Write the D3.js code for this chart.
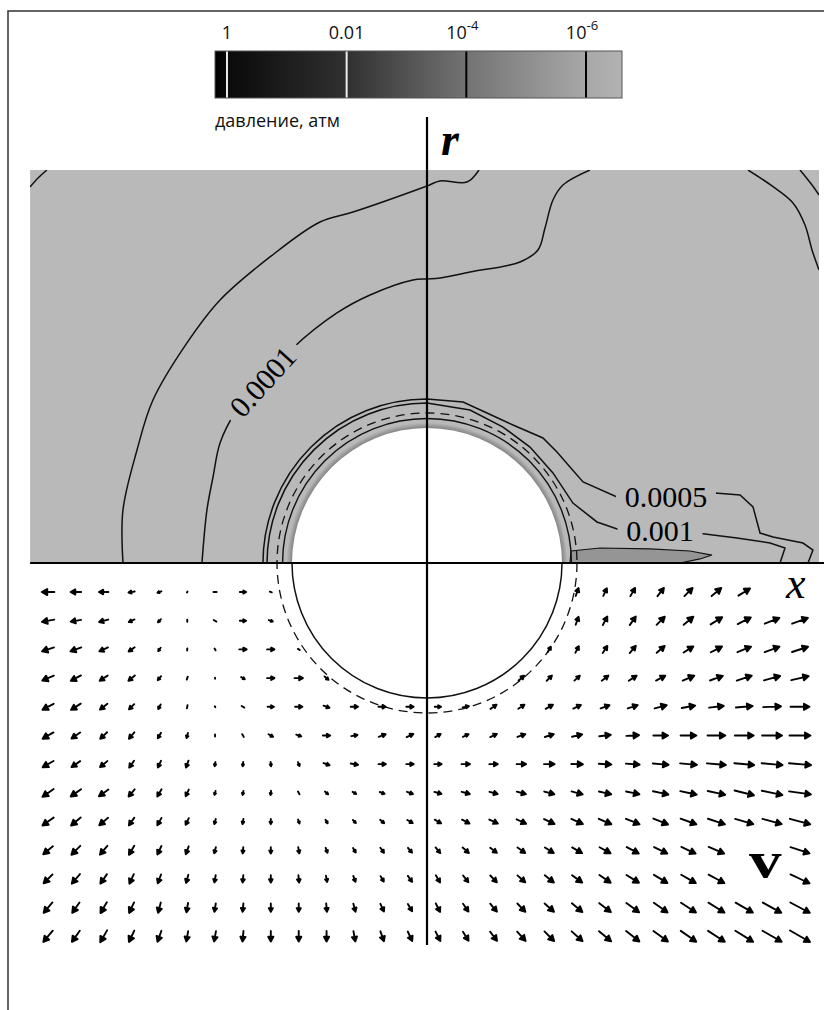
<!DOCTYPE html>
<html>
<head>
<meta charset="utf-8">
<script src="https://d3js.org/d3.v7.min.js"></script>
<style>
  body { margin: 0; background: #fff; }
  svg { display: block; }
</style>
</head>
<body>
<svg id="chart" width="824" height="1010"></svg>
<script>
var N = null;

// colour bar: pressure in atm, log scale
var barEnds = [1.585, 2.5e-7];
var barTicks = [1, 0.01, 1e-4, 1e-6];
var barTickText = ["1", "0.01", "10", "10"];
var barTickExp = ["", "", "-4", "-6"];
var barShadeP = [1.585, 1, 0.01, 1e-4, 1e-6, 2.5e-7];
var barShadeGray = [0, 10, 48, 115, 168, 178];

// pressure contours, points are [x, r] in sphere radii
var contourOuter = [[-2.252,0],[-2.252,0.393],[-2.148,0.837],[-2.030,1.207],[-1.778,1.630],[-1.533,1.948],
  [-1.163,2.267],[-0.793,2.526],[-0.548,2.600],[0,2.793],[0.096,2.830],[0.296,2.822],[0.385,2.911]];
var contour1e4 = [[-1.667,0],[-1.630,0.393],[-1.585,0.637],[-1.533,0.889],[-1.422,1.111],[-1.215,1.350],
  [-0.993,1.593],[-0.667,1.852],[-0.422,1.985],[-0.104,2.096],[0,2.104],[0.096,2.111],[0.319,2.156],
  [0.689,2.230],[0.822,2.319],[0.874,2.481],[0.933,2.689],[1.007,2.800],[1.207,2.911]];
var contourCorner = [[-2.941,2.785],[-2.881,2.852],[-2.815,2.911]];
var contourTopRight1 = [[2.378,2.911],[2.556,2.793],[2.711,2.667],[2.800,2.504],[2.852,2.319],[2.904,2.170]];
var contourTopRight2 = [[2.763,2.911],[2.852,2.800],[2.904,2.726]];
// these two start as arcs round the sphere, then run off into the wake
var ring5e4 = 1.215;
var wake5e4 = [[0.267,1.193],[0.444,1.111],[0.637,1.022],[0.859,0.926],[0.963,0.822],[1.059,0.711],
  [1.156,0.600],[1.407,0.489],[1.770,0.496],[2.133,0.519],[2.319,0.504],[2.415,0.415],[2.467,0.222],
  [2.563,0.193],[2.785,0.148],[2.859,0.096],[2.822,0]];
var ring1e3 = 1.185;
var wake1e3 = [[0.319,1.133],[0.563,1.007],[0.763,0.859],[0.933,0.667],[1.081,0.444],[1.259,0.304],
  [1.430,0.244],[1.726,0.237],[2.000,0.222],[2.296,0.185],[2.541,0.148],[2.652,0.111],[2.615,0]];
var ringInner = 1.07;
var ringShell = 1.04;
var ringDashed = 1.111;
var wakeBlob = [[1.059,0],[1.067,0.089],[1.281,0.111],[1.652,0.104],[1.948,0.089],[2.111,0.059],[2.022,0.030],[1.874,0]];
var contourLabels = [
  { text: "0.0001", x: -1.215, r: 1.341, rot: -48 },
  { text: "0.0005", x: 1.770, r: 0.489, rot: 0 },
  { text: "0.001",  x: 1.726, r: 0.237, rot: 0 }
];

// velocity grid (lower half)
var gridX = [-2.807,-2.601,-2.395,-2.188,-1.982,-1.776,-1.570,-1.363,-1.157,-0.950,-0.744,-0.538,-0.332,-0.126,
  0.081,0.287,0.493,0.699,0.906,1.112,1.319,1.524,1.731,1.937,2.144,2.350,2.556,2.763];
var gridR = [0.215,0.428,0.640,0.853,1.065,1.278,1.490,1.703,1.915,2.128,2.340,2.553,2.765];
// direction on the page (deg, clockwise from +x) and speed
var velAngle = [
  [180,180,180,170,160,120,0,0,20, N,N,N,N,N,N,N,N,N,N, 290,295,300,308,315,320,328,N,N],
  [170,170,165,155,135,90,30,0,20, N,N,N,N,N,N,N,N,N,N, 290,298,305,315,320,328,333,338,340],
  [162,160,155,145,125,95,60,0,0,30, N,N,N,N,N,N,N,N, 300,298,303,310,320,328,333,338,340,342],
  [157,152,147,140,130,110,90,30,0,0,40, N,N,N,N,N,N, 320,315,318,322,327,332,337,340,342,345,347],
  [152,147,142,135,118,100,60,30,0,0,20,0,0,0, 0,350,325,327,330,335,340,342,345,350,353,355,358,0],
  [150,145,137,130,120,105,90,60,30,20,0,350,340,335, 330,335,335,340,342,347,353,357,0,0,0,0,0,0],
  [150,145,140,125,115,110,100,95,85,70,20,10,0,0, 0,0,0,0,0,2,3,4,5,5,5,5,5,5],
  [145,145,145,130,120,115,105,100,95,60,40,30,20,20, 15,15,15,15,15,15,13,12,12,12,12,14,12,8],
  [145,140,140,125,120,115,105,100,90,70,60,45,40,30, 30,27,25,25,25,24,23,22,22,20,18,16,15,15],
  [140,135,130,120,115,110,105,95,90,80,70,60,55,50, 50,42,37,35,32,30,29,28,26,25,23,N,N,18],
  [135,130,125,115,110,105,100,95,90,85,80,70,60,55, 60,52,46,42,38,36,34,32,31,30,28,N,N,25],
  [130,125,120,115,105,100,100,95,90,90,85,75,65,60, 63,55,50,46,42,40,38,36,35,33,32,30,29,28],
  [130,125,120,115,110,100,100,95,90,90,90,80,70,65, 63,58,53,48,45,42,40,38,36,35,33,32,30,30]
];
var velSpeed = [
  [12,10,9,6,4,1,3,6,2, N,N,N,N,N,N,N,N,N,N, 8,8,9,10,11,12,13,N,N],
  [12,10,9,6,4,2,3,6,4, N,N,N,N,N,N,N,N,N,N, 8,9,10,11,12,13,14,15,16],
  [12,11,9,7,4,2,2,7,7,2, N,N,N,N,N,N,N,N, 6,7,8,9,10,11,12,14,15,16],
  [12,11,9,8,5,3,1,4,7,8,5, N,N,N,N,N,N, 7,7,7,8,9,10,12,13,15,16,17],
  [12,11,9,7,5,3,1,3,6,7,6,7,7,7, 6,6,7,7,8,8,9,10,12,13,14,16,17,18],
  [12,10,9,8,6,5,2,3,5,5,7,6,7,7, 6,6,7,8,9,10,11,12,14,15,17,18,19,20],
  [12,10,9,8,7,7,4,4,4,4,6,7,7,7, 7,8,8,9,10,11,12,13,15,16,18,19,20,21],
  [13,12,11,9,8,7,4,4,4,3,4,4,5,6, 7,8,8,9,10,11,12,13,15,16,17,19,20,21],
  [13,12,11,9,8,7,5,5,5,4,4,4,5,6, 7,8,9,10,11,12,13,14,15,16,17,18,19,20],
  [12,12,11,10,9,8,6,6,6,6,5,5,6,6, 7,8,8,9,10,11,12,13,14,15,16,N,N,19],
  [12,12,11,10,9,8,7,7,7,7,6,6,6,7, 8,8,9,10,11,12,13,14,15,16,17,N,N,20],
  [13,12,12,11,10,9,8,8,8,8,8,8,8,8, 9,9,10,11,12,13,14,15,16,17,18,19,20,21],
  [14,13,13,12,11,10,10,10,10,10,10,10,10,10, 10,10,11,12,13,14,15,16,17,18,19,20,21,22]
];

var svg = d3.select('#chart');
var serif = '"Liberation Serif", "DejaVu Serif", serif';
var sans = '"Open Sans", "Noto Sans", sans-serif';
var gray = '#b9b9b9';

// x and r in sphere radii, sphere centre sits on the axes crossing
var xScale = d3.scaleLinear().domain([-1, 1]).range([292, 562]);
var rUp = d3.scaleLinear().domain([0, 1]).range([563, 428]);
var rDown = d3.scaleLinear().domain([0, 1]).range([563, 698]);
var unit = xScale(1) - xScale(0);
var cx = xScale(0), cy = rUp(0);
var xMin = -2.94, xMax = 2.904, rMax = 2.911;

// frame lines at top and left
svg.append('path')
  .attr('d', 'M8,1010V11H824')
  .attr('fill', 'none').attr('stroke', '#333').attr('stroke-width', 1.5);

var defs = svg.append('defs');

//---- colour bar ----
var barX = d3.scaleLog().domain(barEnds).range([215, 622]);
var grad = defs.append('linearGradient').attr('id', 'bar-grad');
grad.selectAll('stop')
  .data(barShadeP)
  .enter().append('stop')
  .attr('offset', function(p) { return (barX(p) - 215) / (622 - 215); })
  .attr('stop-color', function(p, i) { var g = barShadeGray[i]; return d3.rgb(g, g, g); });

svg.append('rect')
  .attr('x', barX(barEnds[0])).attr('y', 51)
  .attr('width', barX(barEnds[1]) - barX(barEnds[0])).attr('height', 47)
  .attr('fill', 'url(#bar-grad)')
  .attr('stroke', '#555').attr('stroke-width', 1);

svg.selectAll('line.bartick')
  .data(barTicks)
  .enter().append('line')
  .attr('class', 'bartick')
  .attr('x1', barX).attr('x2', barX)
  .attr('y1', 51.5).attr('y2', 97.5)
  .attr('stroke', function(d, i) { return i < 2 ? '#eee' : '#000'; })
  .attr('stroke-width', 2);

var tl = svg.selectAll('text.barlabel')
  .data(barTicks)
  .enter().append('text')
  .attr('class', 'barlabel')
  .attr('x', function(d, i) { return barX(d) + (barTickExp[i] ? -4 : 0); })
  .attr('y', 39)
  .attr('text-anchor', 'middle')
  .style('font-family', sans).style('font-size', '18px').style('fill', '#111');
tl.append('tspan').text(function(d, i) { return barTickText[i]; });
tl.append('tspan')
  .attr('dy', -9)
  .style('font-size', '13px')
  .text(function(d, i) { return barTickExp[i]; });

svg.append('text')
  .attr('x', 215).attr('y', 127)
  .style('font-family', sans).style('font-size', '18px').style('fill', '#111')
  .text('давление, атм');

//---- upper half: pressure field ----
defs.append('clipPath').attr('id', 'upper')
  .append('rect')
  .attr('x', xScale(xMin)).attr('y', rUp(rMax))
  .attr('width', xScale(xMax) - xScale(xMin)).attr('height', rUp(0) - rUp(rMax));

var up = svg.append('g').attr('clip-path', 'url(#upper)');
up.append('rect')
  .attr('x', xScale(xMin)).attr('y', rUp(rMax))
  .attr('width', xScale(xMax) - xScale(xMin)).attr('height', rUp(0) - rUp(rMax))
  .attr('fill', gray);

// darker shell hugging the sphere
var shell = defs.append('radialGradient').attr('id', 'shell')
  .attr('gradientUnits', 'userSpaceOnUse')
  .attr('cx', cx).attr('cy', cy).attr('r', ringShell * unit);
shell.append('stop').attr('offset', 1 / ringShell).attr('stop-color', '#858585');
shell.append('stop').attr('offset', 1).attr('stop-color', gray);
up.append('circle').attr('cx', cx).attr('cy', cy).attr('r', ringShell * unit).attr('fill', 'url(#shell)');
up.append('circle').attr('cx', cx).attr('cy', cy).attr('r', unit).attr('fill', '#fff');

up.append('path')
  .datum(wakeBlob)
  .attr('d', d3.line().x(function(d) { return xScale(d[0]); }).y(function(d) { return rUp(d[1]); }))
  .attr('fill', '#959595').attr('stroke', '#111').attr('stroke-width', 1.2);

var line = d3.line()
  .x(function(d) { return xScale(d[0]); })
  .y(function(d) { return rUp(d[1]); })
  .curve(d3.curveCatmullRom.alpha(0.5));

[contourOuter, contour1e4, contourCorner, contourTopRight1, contourTopRight2].forEach(function(c) {
  up.append('path').datum(c).attr('d', line)
    .attr('fill', 'none').attr('stroke', '#111').attr('stroke-width', 1.5);
});

// arc round the sphere from the left axis to the top, then the wake part
function ringThenWake(rad, pts) {
  var p = d3.path();
  p.moveTo(xScale(-rad), rUp(0));
  p.arc(cx, cy, rad * unit, Math.PI, 1.5 * Math.PI);
  pts.forEach(function(q) { p.lineTo(xScale(q[0]), rUp(q[1])); });
  return p.toString();
}
up.append('path').attr('d', ringThenWake(ring5e4, wake5e4))
  .attr('fill', 'none').attr('stroke', '#111').attr('stroke-width', 1.5);
up.append('path').attr('d', ringThenWake(ring1e3, wake1e3))
  .attr('fill', 'none').attr('stroke', '#111').attr('stroke-width', 1.5);

var inner = d3.path();
inner.moveTo(xScale(-ringInner), rUp(0));
inner.arc(cx, cy, ringInner * unit, Math.PI, 2 * Math.PI);
up.append('path').attr('d', inner.toString())
  .attr('fill', 'none').attr('stroke', '#111').attr('stroke-width', 1.4);

// contour labels sit in a gap of their line
var lab = up.selectAll('g.clabel')
  .data(contourLabels)
  .enter().append('g')
  .attr('class', 'clabel')
  .attr('transform', function(d) { return 'translate(' + xScale(d.x) + ',' + rUp(d.r) + ') rotate(' + d.rot + ')'; });
lab.append('rect')
  .attr('x', function(d) { return -d.text.length * 7.5 - 5; })
  .attr('y', -12)
  .attr('width', function(d) { return d.text.length * 15 + 10; })
  .attr('height', 24)
  .attr('fill', gray);
lab.append('text')
  .attr('text-anchor', 'middle')
  .attr('y', 10)
  .style('font-family', serif).style('font-size', '30px').style('fill', '#000')
  .text(function(d) { return d.text; });

//---- circles across both halves ----
svg.append('circle')
  .attr('cx', cx).attr('cy', cy).attr('r', ringDashed * unit)
  .attr('fill', 'none').attr('stroke', '#111').attr('stroke-width', 1.3)
  .attr('stroke-dasharray', '9,6');

var lower = d3.path();
lower.moveTo(xScale(1), rDown(0));
lower.arc(cx, cy, unit, 0, Math.PI);
svg.append('path').attr('d', lower.toString())
  .attr('fill', 'none').attr('stroke', '#111').attr('stroke-width', 1.5);

//---- lower half: velocity vectors ----
var speedLen = d3.scaleLinear().domain([0, 20]).range([0, 21]);
var vectors = [];
gridR.forEach(function(r, i) {
  gridX.forEach(function(x, j) {
    if (velAngle[i][j] === null) return;
    vectors.push({ x: x, r: r, a: velAngle[i][j], s: velSpeed[i][j] });
  });
});

function arrowPath(d) {
  var L = speedLen(d.s);
  var t = d.a * Math.PI / 180;
  var ux = Math.cos(t), uy = Math.sin(t);
  var px = xScale(d.x), py = rDown(d.r);
  var x0 = px - ux * L / 2, y0 = py - uy * L / 2;
  var x1 = px + ux * L / 2, y1 = py + uy * L / 2;
  if (L < 4) return 'M' + x0 + ',' + y0 + 'L' + x1 + ',' + y1;
  var h = Math.min(5.5, L * 0.45), w = h * 0.55;
  var bx = x1 - ux * h, by = y1 - uy * h;
  return 'M' + x0 + ',' + y0 + 'L' + bx + ',' + by +
    'M' + x1 + ',' + y1 + 'L' + (bx - uy * w) + ',' + (by + ux * w) +
    'L' + (bx + uy * w) + ',' + (by - ux * w) + 'Z';
}

svg.append('g').selectAll('path')
  .data(vectors)
  .enter().append('path')
  .attr('d', arrowPath)
  .attr('fill', '#000').attr('stroke', '#000')
  .attr('stroke-width', 1.9).attr('stroke-linecap', 'round').attr('stroke-linejoin', 'round');

//---- axes ----
svg.append('line')
  .attr('x1', xScale(xMin)).attr('x2', 824)
  .attr('y1', rUp(0)).attr('y2', rUp(0))
  .attr('stroke', '#000').attr('stroke-width', 2.2);
svg.append('line')
  .attr('x1', cx).attr('x2', cx)
  .attr('y1', 117).attr('y2', 945)
  .attr('stroke', '#000').attr('stroke-width', 2.2);

svg.append('text')
  .attr('x', 441).attr('y', 155)
  .style('font-family', serif).style('font-size', '46px')
  .style('font-style', 'italic').style('font-weight', 'bold')
  .text('r');
svg.append('text')
  .attr('x', 786).attr('y', 598)
  .style('font-family', serif).style('font-size', '44px').style('font-style', 'italic')
  .text('x');
svg.append('text')
  .attr('transform', 'translate(749,877) scale(1.3,1)')
  .style('font-family', serif).style('font-size', '50px').style('font-weight', 'bold')
  .text('v');
</script>
</body>
</html>
